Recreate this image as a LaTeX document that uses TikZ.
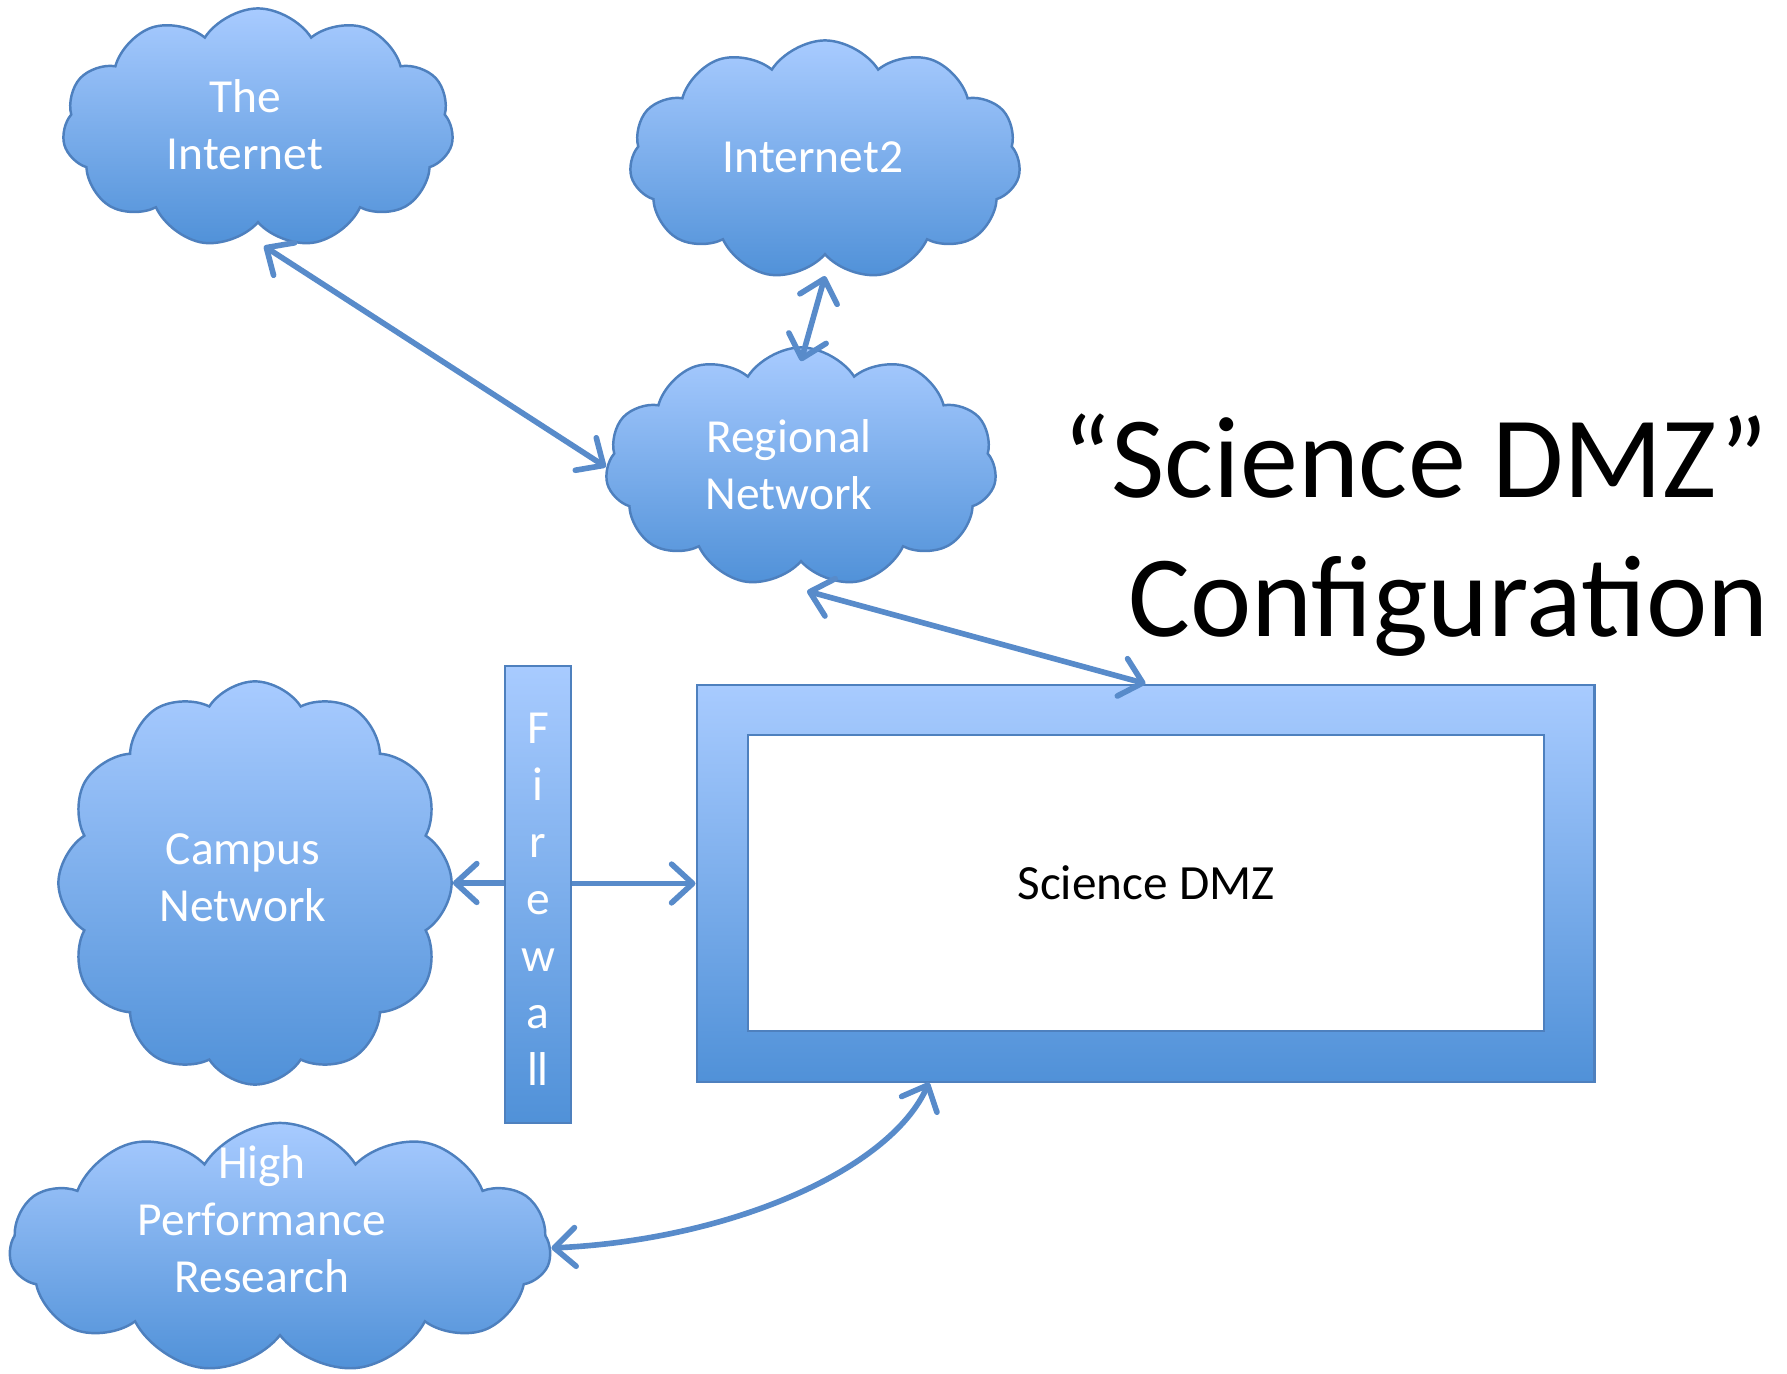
\documentclass[tikz,border=0pt]{standalone}
\usepackage{fontspec}
\setmainfont{Carlito}
\usetikzlibrary{calc}
\usetikzlibrary{positioning}
\usetikzlibrary{shapes.symbols,arrows.meta}

\definecolor{cloudtop}{RGB}{168,203,255}
\definecolor{cloudbot}{RGB}{80,145,216}
\definecolor{cloudline}{RGB}{78,128,190}
\definecolor{arrowline}{RGB}{88,139,202}

\begin{document}
\begin{tikzpicture}
		[
		x=0.01cm, y=-0.01cm,
		>={Straight Barb[round,length=6pt,width=11pt]},
		link/.style={draw=arrowline,line width=1.6pt}
		]
		\useasboundingbox (0,0) rectangle (1787,1374);
		
		% Node styles: clouds, boxes and their texts
		\tikzstyle{cloud node}=[cloud,cloud puffs=11,cloud puff arc=115,cloud ignores aspect,draw=cloudline,line width=0.7pt,top color=cloudtop,bottom color=cloudbot,inner sep=0];
		\tikzstyle{box node}=[rectangle,draw=cloudline,line width=0.7pt,top color=cloudtop,bottom color=cloudbot,inner sep=0];
		\tikzstyle{cloud text}=[text=white,align=center,font=\fontsize{13.5}{16.2}\selectfont,inner sep=0];
		\tikzstyle{title text}=[anchor=base east,inner sep=0,font=\fontsize{33}{39.5}\selectfont];
		
		% The clouds
		\node[cloud node,minimum width=3.91cm,minimum height=2.39cm](inet)at(258,128){};
		\node[cloud node,minimum width=3.91cm,minimum height=2.39cm](i2)at(825,160){};
		\node[cloud node,minimum width=3.91cm,minimum height=2.39cm](reg)at(801,467){};
		\node[cloud node,minimum width=3.93cm,minimum height=4.03cm,cloud puffs=12](campus)at(255,883){};
		\node[cloud node,minimum width=5.41cm,minimum height=2.50cm](hpr)at(280,1248){};
		
		% Cloud labels
		\node[cloud text](inet-t)at(245,125){The\\Internet};
		\node[cloud text](i2-t)at(813,157){Internet2};
		\node[cloud text](reg-t)at(789,465){Regional\\Network};
		\node[cloud text](campus-t)at(243,878){Campus\\Network};
		\node[cloud text](hpr-t)at(262,1219){High\\Performance\\Research};
		
		% Firewall and the Science DMZ
		\node[box node,cloud text,minimum width=0.66cm,minimum height=4.57cm](fw)at(538,894.5){};
		\node[cloud text](fw-t)at(538,899){F\\i\\r\\e\\w\\a\\ll};
		\node[box node,minimum width=8.97cm,minimum height=3.97cm](dmz)at(1145.5,883.5){};
		\node[draw=cloudline,line width=0.7pt,fill=white,minimum width=7.96cm,minimum height=2.96cm,font=\fontsize{14}{17}\selectfont](dmz-in)at(1146,883){Science DMZ};
		\coordinate(dmz-low)at(929,1082.5);
		
		% Title
		\node[title text](title1)at(1769,498){“Science DMZ”};
		\node[title text](title2)at(1769,637){Configuration};
		
		% Links
		\draw[link,<->]([xshift=0.06cm,yshift=-0.22cm]inet.south)--(reg.west);
		\draw[link,<->]([yshift=-0.2cm]i2.south)--([yshift=-0.15cm]reg.north);
		\draw[link,<->]([xshift=0.06cm,yshift=-0.28cm]reg.south)--(dmz.north);
		\draw[link,->](fw.west|-campus.east)--(campus.east);
		\draw[link,->](fw.east|-dmz.west)--(dmz.west);
		\draw[link,<->](hpr.east)..controls(730,1240)and(890,1170)..(dmz-low);
		\end{tikzpicture}
\end{document}
